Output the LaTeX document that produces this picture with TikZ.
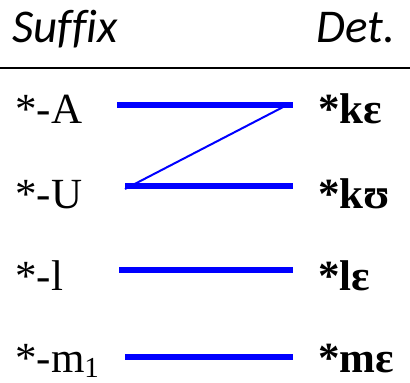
\documentclass[tikz,border=0pt]{standalone}
\usepackage{fontspec}
\setmainfont{Liberation Serif}
\newfontfamily\headfont[Ligatures=NoCommon]{Carlito}
\usetikzlibrary{positioning}
\definecolor{linkblue}{RGB}{0,0,255}
\newcommand{\lowidx}[1]{\raisebox{-0.12em}{\fontsize{29}{30}\selectfont #1}}
\tikzset{
  head/.style={font=\headfont\itshape\fontsize{47}{54}\selectfont,inner sep=0pt,anchor=base west},
  suffix/.style={font=\fontsize{43}{50}\selectfont,inner sep=0pt,anchor=base west},
  det/.style={font=\bfseries\fontsize{43}{50}\selectfont,inner sep=0pt,anchor=base west},
  link/.style={linkblue,line width=6pt},
  cross/.style={linkblue,line width=2pt}
}

\begin{document}
\begin{tikzpicture}[x=1pt,y=-1pt]
\useasboundingbox (0,0) rectangle (410,383);
% ---- headers ----
\node[head] (hsuf) at (12,42) {Suffix};
\node[head] (hdet) at (316,42) {Det.};
\draw[line width=2pt] (0,68) coordinate (rule-l) -- (410,68) coordinate (rule-r);
% ---- suffixes ----
\node[suffix] (sA) at (15,123) {*-A};
\node[suffix] (sU) at (15,208) {*-U};
\node[suffix] (sl) at (15,290) {*-l};
\node[suffix] (sm) at (15,372) {*-m\lowidx{1}};
% ---- determiners ----
\node[det] (dke) at (318,123) {*kɛ};
\node[det] (dku) at (318,208) {*kʊ};
\node[det] (dle) at (318,290) {*lɛ};
\node[det] (dme) at (318,372) {*mɛ};
% ---- line ends ----
\coordinate (A-l) at (117,104.5);
\coordinate (A-r) at (293,104.5);
\coordinate (U-l) at (125,186);
\coordinate (U-r) at (293,186);
\coordinate (l-l) at (119,270);
\coordinate (l-r) at (293,270);
\coordinate (m-l) at (125,357);
\coordinate (m-r) at (293,357);
% ---- links ----
\draw[link] (A-l) -- (A-r);
\draw[link] (U-l) -- (U-r);
\draw[link] (l-l) -- (l-r);
\draw[link] (m-l) -- (m-r);
\draw[cross] ([xshift=-5pt]A-r) -- ([yshift=-3pt]U-l);
\end{tikzpicture}
\end{document}
